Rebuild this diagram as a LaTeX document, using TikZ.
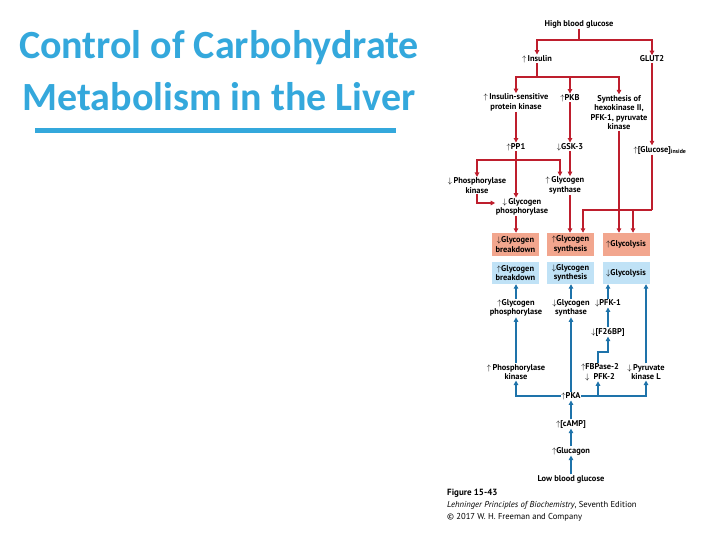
\documentclass[tikz,border=0pt]{standalone}
\usepackage{fontspec}
\setmainfont{PT Sans}
\newfontfamily\titlefont{Carlito}
\usetikzlibrary{arrows.meta}

\definecolor{titleblue}{RGB}{52,168,220}
\definecolor{pathred}{RGB}{190,30,45}
\definecolor{pathblue}{RGB}{30,115,170}
\definecolor{salmon}{RGB}{242,166,142}
\definecolor{skyblue}{RGB}{192,226,246}

\newcommand{\up}{\(\uparrow\)}
\newcommand{\dn}{\(\downarrow\)}

\tikzset{
	lbl/.style={inner sep=0.5pt,align=center,font=\fontsize{8.4}{9.6}\selectfont\bfseries},
	redbox/.style={lbl,fill=salmon,minimum width=47pt,minimum height=23pt},
	bluebox/.style={lbl,fill=skyblue,minimum width=47pt,minimum height=22pt},
	redln/.style={draw=pathred,line width=1.3pt},
	redarr/.style={redln,-{Triangle[length=4.5pt,width=4.5pt]}},
	blueln/.style={draw=pathblue,line width=1.3pt},
	bluearr/.style={blueln,-{Triangle[length=4.5pt,width=4.5pt]}},
	heading/.style={inner sep=0pt,text=titleblue,font=\titlefont\fontsize{40}{44}\selectfont\bfseries},
	credit/.style={anchor=west,inner sep=1pt,font=\fontsize{8.6}{10}\selectfont}
}

\begin{document}
\begin{tikzpicture}[x=1pt,y=-1pt]
	\useasboundingbox (0,0) rectangle (720,540);
	% title
	\node[heading] (head1) at (219,48) {Control of Carbohydrate};
	\node[heading] (head2) at (219,97) {Metabolism in the Liver};
	\fill[titleblue] (35,128.5) rectangle (396,133.5);

	% high blood glucose side
	\node[lbl] (high) at (579,24) {High blood glucose};
	\node[lbl] (ins) at (537,59) {\up\,Insulin};
	\node[lbl] (glut) at (652,59) {GLUT2};
	\node[lbl] (ispk) at (516,102.5) {\up\,Insulin-sensitive\\protein kinase};
	\node[lbl] (pkb) at (570,98) {\up PKB};
	\node[lbl] (synth) at (619,112.5) {Synthesis of\\hexokinase II,\\PFK-1, pyruvate\\kinase};
	\node[lbl] (pp1) at (516,147) {\up PP1};
	\node[lbl] (gsk) at (570,147) {\dn GSK-3};
	\node[lbl] (gluc) at (660,150) {\up[Glucose]\textsubscript{inside}};
	\node[lbl] (phk) at (477,185.5) {\dn\,Phosphorylase\\kinase};
	\node[lbl] (gs) at (565,185.5) {\up\,Glycogen\\synthase};
	\node[lbl] (gp) at (522,207) {\dn\,Glycogen\\phosphorylase};

	% effect boxes
	\node[redbox] (rb1) at (515.5,244.5) {\dn Glycogen\\breakdown};
	\node[redbox] (rb2) at (570.5,244.5) {\up Glycogen\\synthesis};
	\node[redbox] (rb3) at (626,244.5) {\up Glycolysis};
	\node[bluebox] (bb1) at (515.5,273) {\up Glycogen\\breakdown};
	\node[bluebox] (bb2) at (570.5,273) {\dn Glycogen\\synthesis};
	\node[bluebox] (bb3) at (626,273) {\dn Glycolysis};

	% low blood glucose side
	\node[lbl] (bgp) at (516,308) {\up Glycogen\\phosphorylase};
	\node[lbl] (bgs) at (571,308) {\dn Glycogen\\synthase};
	\node[lbl] (pfk1) at (608,303) {\dn PFK-1};
	\node[lbl] (f26) at (608,332) {\dn[F26BP]};
	\node[lbl] (bphk) at (516,372) {\up\,Phosphorylase\\kinase};
	\node[lbl] (fbp) at (600,372) {\up FBPase-2\\\dn\ \ PFK-2};
	\node[lbl] (pkl) at (646,372) {\dn\,Pyruvate\\kinase L};
	\node[lbl] (pka) at (571,396) {\up PKA};
	\node[lbl] (camp) at (571,424) {\up[cAMP]};
	\node[lbl] (glucagon) at (571,451) {\up Glucagon};
	\node[lbl] (low) at (571,479) {Low blood glucose};

	% caption
	\node[credit,font=\fontsize{9}{10}\selectfont\bfseries] (fig) at (446,493) {Figure 15-43};
	\node[credit] (book) at (446,505)
		{\textit{Lehninger Principles of Biochemistry}, Seventh Edition};
	\node[credit] (copy) at (446,517)
		{\textcopyright\ 2017 W. H. Freeman and Company};

	% red connectors
	\coordinate (hb) at (579,40);
	\coordinate (ib) at (537,77);
	\coordinate (pb) at (516,160);
	\coordinate (gb) at (652,210);
	\coordinate (g2) at (633,210);
	\draw[redln] (high) -- (hb);
	\draw[redarr] (hb) -| (ins.north);
	\draw[redarr] (hb) -| (glut.north);
	\draw[redln] (ins) -- (ib);
	\draw[redarr] (ib) -| (ispk.north);
	\draw[redarr] (ib) -| (pkb.north);
	\draw[redarr] (ib) -| (synth.north);
	\draw[redarr] (ispk) -- (pp1);
	\draw[redarr] (pkb) -- (gsk);
	\draw[redarr] (glut.south) -- (glut.south |- gluc.north);
	\draw[redln] (pp1) -- (pb);
	\draw[redarr] (pb) -- (pb |- gp.north);
	\draw[redarr] (pb) -| (phk.north);
	\draw[redarr] (pb) -| ([xshift=-5pt]gs.north);
	\draw[redarr] (gsk) -- (gsk |- gs.north);
	\draw[redarr] (phk.south) |- ([yshift=4pt]gp.west);
	\draw[redarr] (pb |- gp.south) -- (pb |- rb1.north);
	\draw[redarr] (gsk |- gs.south) -- (gsk |- rb2.north);
	\draw[redarr] (synth) -- (synth |- rb3.north);
	\draw[redln] (glut |- gluc.south) -- (gb);
	\draw[redarr] (gb) -| ([xshift=12.5pt]rb2.north);
	\draw[redarr] (g2) -- (g2 |- rb3.north);

	% blue connectors
	\coordinate (fj) at (598,352);
	\draw[bluearr] (bgp) -- (bgp |- bb1.south);
	\draw[bluearr] (bgs) -- (bgs |- bb2.south);
	\draw[bluearr] (pfk1) -- (pfk1 |- bb3.south);
	\draw[bluearr] (pkl) -- (pkl |- bb3.south);
	\draw[bluearr] (f26) -- (pfk1);
	\draw[bluearr] (bphk) -- (bgp);
	\draw[bluearr] (fbp.north -| fj) -- (fj) -| (f26.south);
	\draw[bluearr] (pka.west) -| (bphk.south);
	\draw[bluearr] (pka.east) -| (pkl.south);
	\draw[bluearr] (pka.east -| fj) -- (fbp.south -| fj);
	\draw[bluearr] (pka) -- (bgs);
	\draw[bluearr] (camp) -- (pka);
	\draw[bluearr] (glucagon) -- (camp);
	\draw[bluearr] (low) -- (glucagon);

\end{tikzpicture}
\end{document}
